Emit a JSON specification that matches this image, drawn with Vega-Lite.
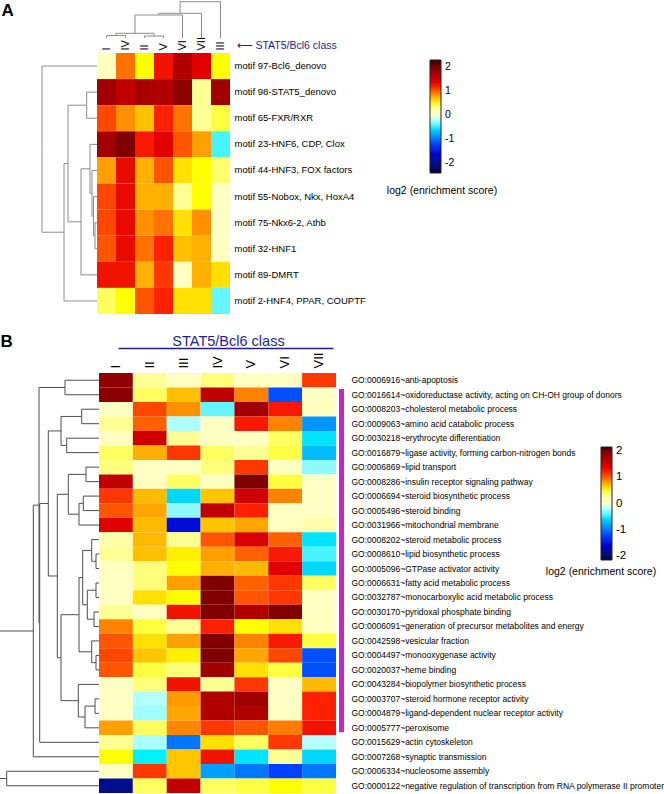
{
  "$schema": "https://vega.github.io/schema/vega-lite/v6.json",
  "autosize": {"type": "none"},
  "padding": {"left": 99, "top": 53, "right": 565, "bottom": 741},
  "background": "white",
  "config": {
    "font": "Liberation Sans",
    "view": {"stroke": null},
    "axis": {"grid": false, "labelFont": "Liberation Sans", "titleFont": "Liberation Sans"},
    "legend": {"labelFont": "Liberation Sans", "titleFont": "Liberation Sans"}
  },
  "spacing": 59,
  "bounds": "flush",
  "resolve": {"scale": {"color": "independent"}, "legend": {"color": "independent"}},
  "vconcat": [
    {
      "width": 133,
      "height": 261,
      "resolve": {"scale": {"x": "independent", "y": "independent"}},
      "layer": [
        {
          "data": {"values": [
            {"motif": "motif 97-Bcl6_denovo", "I": 0.2, "IV": 0.95, "II": 0.5, "V": 1.3, "VI": 1.7, "VII": 1.4, "III": 0.5},
            {"motif": "motif 98-STAT5_denovo", "I": 1.8, "IV": 1.6, "II": 1.75, "V": 1.7, "VI": 1.9, "VII": 0.3, "III": 1.8},
            {"motif": "motif 65-FXR/RXR", "I": 1.1, "IV": 0.85, "II": 0.7, "V": 1.2, "VI": 0.95, "VII": 0.3, "III": 0.45},
            {"motif": "motif 23-HNF6, CDP, Clox", "I": 1.8, "IV": 2.0, "II": 1.25, "V": 1.4, "VI": 1.05, "VII": 0.8, "III": -0.45},
            {"motif": "motif 44-HNF3, FOX factors", "I": 0.8, "IV": 1.35, "II": 0.75, "V": 1.05, "VI": 0.6, "VII": 0.5, "III": 0.38},
            {"motif": "motif 55-Nobox, Nkx, HoxA4", "I": 1.1, "IV": 1.35, "II": 0.75, "V": 0.75, "VI": 0.3, "VII": 0.5, "III": 0.12},
            {"motif": "motif 75-Nkx6-2, Athb", "I": 1.1, "IV": 1.35, "II": 0.85, "V": 0.95, "VI": 0.6, "VII": 0.85, "III": 0.1},
            {"motif": "motif 32-HNF1", "I": 1.05, "IV": 1.35, "II": 0.95, "V": 1.2, "VI": 0.7, "VII": 0.75, "III": 0.1},
            {"motif": "motif 89-DMRT", "I": 1.3, "IV": 1.3, "II": 0.75, "V": 1.15, "VI": 0, "VII": 0.75, "III": 0.6},
            {"motif": "motif 2-HNF4, PPAR, COUPTF", "I": 0.4, "IV": 0.5, "II": 1.05, "V": 1.2, "VI": 0.6, "VII": 0.6, "III": -0.4}
          ]},
          "transform": [{"fold": ["I", "IV", "II", "V", "VI", "VII", "III"], "as": ["col", "v"]}],
          "mark": {"type": "rect"},
          "encoding": {
            "x": {
              "field": "col", "type": "nominal",
              "scale": {"domain": ["I", "IV", "II", "V", "VI", "VII", "III"], "range": [-2, 131], "paddingInner": 0, "paddingOuter": 0},
              "axis": {
                "orient": "top", "labelAngle": 270, "labelAlign": "left", "labelBaseline": "middle",
                "labelPadding": 3, "ticks": false, "domain": false, "labelFontSize": 11, "labelColor": "#000",
                "title": "⟵ STAT5/Bcl6 class", "titleColor": "#1f1f8f", "titleFontSize": 10.5, "titleFontWeight": "normal",
                "titleAnchor": "start", "titleAlign": "left", "titleBaseline": "middle", "titleX": 137, "titleY": -8
              }
            },
            "y": {
              "field": "motif", "type": "nominal", "sort": null,
              "scale": {"paddingInner": 0, "paddingOuter": 0},
              "axis": {"orient": "right", "labelFontSize": 9.5, "labelPadding": 2, "ticks": false, "domain": false, "title": null, "labelLimit": 400, "labelColor": "#000"}
            },
            "color": {
              "field": "v", "type": "quantitative",
              "scale": {
                "type": "linear",
                "domain": [-2.4, -1.6, -1.2, -0.8, -0.5, -0.2, 0, 0.2, 0.4, 0.5, 0.6, 0.7, 0.8, 1.0, 1.2, 1.4, 1.7, 2.0, 2.3],
                "range": ["#000040", "#0000d0", "#0040ff", "#00a0ff", "#00f0ff", "#b0ffff", "#ffffff", "#ffffc0", "#ffff60", "#ffff00", "#ffe000", "#ffc000", "#ffa000", "#ff6000", "#ff2000", "#e00000", "#b00000", "#800000", "#300000"]
              },
              "legend": {
                "type": "gradient",
                "orient": "none", "legendX": 288, "legendY": 7, "direction": "vertical",
                "gradientLength": 113, "gradientThickness": 11, "values": [-2, -1, 0, 1, 2],
                "labelFontSize": 10.5, "labelOffset": 4, "labelOverlap": false, "labelColor": "#000",
                "labelExpr": "'' + datum.value",
                "title": "log2 (enrichment score)", "titleOrient": "bottom", "titleAnchor": "middle",
                "titleFontSize": 10.5, "titleFontWeight": "normal", "titlePadding": 12, "titleLimit": 300, "titleColor": "#000",
                "gradientStrokeColor": "#222", "gradientStrokeWidth": 1, "padding": 0
              }
            }
          }
        },
        {
          "data": {"name": "rowLinksA", "values": [
            {"h0": 0, "h": 55, "y": 1, "yp": 4.184},
            {"h0": 33, "h": 55, "y": 7.367, "yp": 4.184},
            {"h0": 29, "h": 33, "y": 4.734, "yp": 7.367},
            {"h0": 0, "h": 33, "y": 10, "yp": 7.367},
            {"h0": 10.3, "h": 29, "y": 2.5, "yp": 4.734},
            {"h0": 16, "h": 29, "y": 6.969, "yp": 4.734},
            {"h0": 0, "h": 10.3, "y": 2, "yp": 2.5},
            {"h0": 0, "h": 10.3, "y": 3, "yp": 2.5},
            {"h0": 7, "h": 16, "y": 4.938, "yp": 6.969},
            {"h0": 0, "h": 16, "y": 9, "yp": 6.969},
            {"h0": 0, "h": 7, "y": 4, "yp": 4.938},
            {"h0": 5, "h": 7, "y": 5.875, "yp": 4.938},
            {"h0": 0, "h": 5, "y": 5, "yp": 5.875},
            {"h0": 3.5, "h": 5, "y": 6.75, "yp": 5.875},
            {"h0": 0, "h": 3.5, "y": 6, "yp": 6.75},
            {"h0": 2, "h": 3.5, "y": 7.5, "yp": 6.75},
            {"h0": 0, "h": 2, "y": 7, "yp": 7.5},
            {"h0": 0, "h": 2, "y": 8, "yp": 7.5}
          ]},
          "mark": {"type": "rule", "color": "#8c8c8c", "strokeWidth": 1},
          "encoding": {
            "x": {"field": "h0", "type": "quantitative", "scale": {"domain": [0, 55], "range": [-2, -57], "nice": false, "zero": false}, "axis": null},
            "x2": {"field": "h"},
            "y": {
              "field": "y", "type": "quantitative",
              "scale": {"domain": [0.5, 10.5], "range": [0, 261], "nice": false, "zero": false},
              "axis": {
                "orient": "left", "domain": false, "ticks": false, "labels": false, "grid": false,
                "title": "A", "titleAngle": 0, "titleFontSize": 17, "titleFontWeight": "bold", "titleColor": "#000",
                "titleX": -98, "titleY": -38, "titleAlign": "left", "titleBaseline": "alphabetic"
              }
            }
          }
        },
        {
          "data": {"name": "rowLinksA"},
          "mark": {"type": "rule", "color": "#8c8c8c", "strokeWidth": 1},
          "encoding": {
            "x": {"field": "h", "type": "quantitative", "scale": {"domain": [0, 55], "range": [-2, -57], "nice": false, "zero": false}, "axis": null},
            "y": {"field": "y", "type": "quantitative", "scale": {"domain": [0.5, 10.5], "range": [0, 261], "nice": false, "zero": false}, "axis": null},
            "y2": {"field": "yp"}
          }
        },
        {
          "data": {"name": "colLinksA", "values": [
            {"h0": 0, "h": 2.5, "x": 1, "xp": 1.5},
            {"h0": 0, "h": 2.5, "x": 2, "xp": 1.5},
            {"h0": 0, "h": 2, "x": 3, "xp": 3.5},
            {"h0": 0, "h": 2, "x": 4, "xp": 3.5},
            {"h0": 2.5, "h": 4.7, "x": 1.5, "xp": 2.5},
            {"h0": 2, "h": 4.7, "x": 3.5, "xp": 2.5},
            {"h0": 4.7, "h": 23, "x": 2.5, "xp": 3.75},
            {"h0": 0, "h": 23, "x": 5, "xp": 3.75},
            {"h0": 23, "h": 24.7, "x": 3.75, "xp": 4.875},
            {"h0": 0, "h": 24.7, "x": 6, "xp": 4.875},
            {"h0": 24.7, "h": 36.3, "x": 4.875, "xp": 5.938},
            {"h0": 0, "h": 36.3, "x": 7, "xp": 5.938}
          ]},
          "mark": {"type": "rule", "color": "#8c8c8c", "strokeWidth": 1},
          "encoding": {
            "x": {"field": "x", "type": "quantitative", "scale": {"domain": [0.5, 7.5], "range": [-2, 131], "nice": false, "zero": false}, "axis": null},
            "y": {"field": "h0", "type": "quantitative", "scale": {"domain": [0, 36.3], "range": [-15, -51.3], "nice": false, "zero": false}, "axis": null},
            "y2": {"field": "h"}
          }
        },
        {
          "data": {"name": "colLinksA"},
          "mark": {"type": "rule", "color": "#8c8c8c", "strokeWidth": 1},
          "encoding": {
            "x": {"field": "x", "type": "quantitative", "scale": {"domain": [0.5, 7.5], "range": [-2, 131], "nice": false, "zero": false}, "axis": null},
            "x2": {"field": "xp"},
            "y": {"field": "h", "type": "quantitative", "scale": {"domain": [0, 36.3], "range": [-15, -51.3], "nice": false, "zero": false}, "axis": null}
          }
        }
      ]
    },
    {
      "width": 237,
      "height": 420,
      "resolve": {"scale": {"x": "independent", "y": "independent"}},
      "layer": [
        {
          "data": {"values": [
            {"term": "GO:0006916~anti-apoptosis", "I": 1.9, "II": 0.3, "III": 0, "IV": 0.35, "V": 0, "VI": 0, "VII": 1.15},
            {"term": "GO:0016614~oxidoreductase activity, acting on CH-OH group of donors", "I": 1.95, "II": 0.4, "III": 0.7, "IV": 1.6, "V": 0.9, "VI": -1.15, "VII": 0},
            {"term": "GO:0008203~cholesterol metabolic process", "I": 0, "II": 1.1, "III": 0.85, "IV": -0.4, "V": 1.8, "VI": 1.25, "VII": 0.2},
            {"term": "GO:0009063~amino acid catabolic process", "I": 0.3, "II": 1.0, "III": -0.2, "IV": 0, "V": 1.25, "VI": 0.9, "VII": -0.85},
            {"term": "GO:0030218~erythrocyte differentiation", "I": 0, "II": 1.5, "III": 0.3, "IV": 0, "V": 0.1, "VI": 0.4, "VII": -0.55},
            {"term": "GO:0016879~ligase activity, forming carbon-nitrogen bonds", "I": 0.4, "II": 0.75, "III": 1.15, "IV": 0.4, "V": 0.3, "VI": 0.45, "VII": -0.7},
            {"term": "GO:0006869~lipid transport", "I": 0.35, "II": 0.1, "III": 0, "IV": 0.35, "V": 1.15, "VI": 0.1, "VII": -0.3},
            {"term": "GO:0008286~insulin receptor signaling pathway", "I": 1.6, "II": 0.1, "III": 0.4, "IV": 0, "V": 2.0, "VI": 0.45, "VII": 0},
            {"term": "GO:0006694~steroid biosynthetic process", "I": 1.15, "II": 0.72, "III": -0.6, "IV": 0.68, "V": 1.5, "VI": 0.9, "VII": 0},
            {"term": "GO:0005496~steroid binding", "I": 1.05, "II": 0.78, "III": -0.3, "IV": 1.6, "V": 1.2, "VI": 0, "VII": 0},
            {"term": "GO:0031966~mitochondrial membrane", "I": 1.4, "II": 0.72, "III": -1.55, "IV": 0.68, "V": 0.78, "VI": 0.1, "VII": 0.25},
            {"term": "GO:0008202~steroid metabolic process", "I": 0.25, "II": 0.72, "III": 0.3, "IV": 1.05, "V": 1.45, "VI": 1.0, "VII": -0.55},
            {"term": "GO:0008610~lipid biosynthetic process", "I": 0.3, "II": 0.7, "III": 0.55, "IV": 0.8, "V": 1.0, "VI": 1.25, "VII": -0.45},
            {"term": "GO:0005096~GTPase activator activity", "I": 0.2, "II": 0.35, "III": 0.5, "IV": 0.75, "V": 0.72, "VI": 1.4, "VII": -0.6},
            {"term": "GO:0006631~fatty acid metabolic process", "I": 0, "II": 0.35, "III": 0.8, "IV": 2.0, "V": 1.0, "VI": 1.15, "VII": 0.4},
            {"term": "GO:0032787~monocarboxylic acid metabolic process", "I": 0, "II": 0.6, "III": 0.5, "IV": 2.0, "V": 1.05, "VI": 1.15, "VII": 0.2},
            {"term": "GO:0030170~pyridoxal phosphate binding", "I": 0.3, "II": 0, "III": 1.3, "IV": 2.0, "V": 1.7, "VI": 2.0, "VII": 0.2},
            {"term": "GO:0006091~generation of precursor metabolites and energy", "I": 0.9, "II": 0.45, "III": 0.3, "IV": 1.2, "V": 0.5, "VI": 0.6, "VII": 0.15},
            {"term": "GO:0042598~vesicular fraction", "I": 1.05, "II": 0.6, "III": 0.8, "IV": 2.0, "V": 0.9, "VI": 1.25, "VII": 0.45},
            {"term": "GO:0004497~monooxygenase activity", "I": 1.1, "II": 0.68, "III": 0.55, "IV": 2.0, "V": 0.78, "VI": 1.1, "VII": -1.15},
            {"term": "GO:0020037~heme binding", "I": 1.05, "II": 0.45, "III": 0.35, "IV": 1.8, "V": 0.6, "VI": 0.45, "VII": -1.15},
            {"term": "GO:0043284~biopolymer biosynthetic process", "I": 0, "II": 0.35, "III": 1.3, "IV": 0.3, "V": 1.15, "VI": 0, "VII": 0.72},
            {"term": "GO:0003707~steroid hormone receptor activity", "I": 0, "II": -0.15, "III": 0.82, "IV": 1.7, "V": 1.8, "VI": 0, "VII": 1.2},
            {"term": "GO:0004879~ligand-dependent nuclear receptor activity", "I": 0, "II": -0.25, "III": 0.78, "IV": 1.7, "V": 1.7, "VI": 0, "VII": 1.2},
            {"term": "GO:0005777~peroxisome", "I": 0.8, "II": 0.4, "III": 0.88, "IV": 1.15, "V": 1.05, "VI": 0.92, "VII": 1.3},
            {"term": "GO:0015629~actin cytoskeleton", "I": 0.3, "II": -0.22, "III": -1.0, "IV": 0.6, "V": 0.4, "VI": 1.15, "VII": -0.1},
            {"term": "GO:0007268~synaptic transmission", "I": 0.5, "II": -0.5, "III": 0.68, "IV": 1.3, "V": -0.55, "VI": 0.3, "VII": -0.6},
            {"term": "GO:0006334~nucleosome assembly", "I": 0, "II": 1.15, "III": 0.68, "IV": -0.8, "V": -1.0, "VI": -1.2, "VII": -1.0},
            {"term": "GO:0000122~negative regulation of transcription from RNA polymerase II promoter", "I": -1.85, "II": 0.4, "III": 1.6, "IV": 0.4, "V": 0.45, "VI": 0.5, "VII": 0.45}
          ]},
          "transform": [{"fold": ["I", "II", "III", "IV", "V", "VI", "VII"], "as": ["col", "v"]}],
          "mark": {"type": "rect"},
          "encoding": {
            "x": {
              "field": "col", "type": "nominal",
              "scale": {"domain": ["I", "II", "III", "IV", "V", "VI", "VII"], "paddingInner": 0, "paddingOuter": 0},
              "axis": {
                "orient": "top", "labelAngle": 270, "labelAlign": "left", "labelBaseline": "middle",
                "labelPadding": 5, "ticks": false, "domain": false, "labelFontSize": 13, "labelColor": "#000", "title": null
              }
            },
            "y": {
              "field": "term", "type": "nominal", "sort": null,
              "scale": {"paddingInner": 0, "paddingOuter": 0},
              "axis": {"orient": "right", "labelFontSize": 8.5, "labelPadding": 15, "ticks": false, "domain": false, "title": null, "labelLimit": 400, "labelColor": "#000"}
            },
            "color": {
              "field": "v", "type": "quantitative",
              "scale": {
                "type": "linear",
                "domain": [-2.15, -1.6, -1.2, -0.8, -0.5, -0.2, 0, 0.2, 0.4, 0.5, 0.6, 0.7, 0.8, 1.0, 1.2, 1.4, 1.7, 2.0, 2.15],
                "range": ["#000040", "#0000d0", "#0040ff", "#00a0ff", "#00f0ff", "#b0ffff", "#ffffff", "#ffffc0", "#ffff60", "#ffff00", "#ffe000", "#ffc000", "#ffa000", "#ff6000", "#ff2000", "#e00000", "#b00000", "#800000", "#300000"]
              },
              "legend": {
                "type": "gradient",
                "orient": "none", "legendX": 447, "legendY": 74, "direction": "vertical",
                "gradientLength": 113, "gradientThickness": 11, "values": [-2, -1, 0, 1, 2],
                "labelFontSize": 11.5, "labelOffset": 4, "labelOverlap": false, "labelColor": "#000",
                "labelExpr": "'' + datum.value",
                "title": "log2 (enrichment score)", "titleOrient": "bottom", "titleAnchor": "start", "titleAlign": "center",
                "titleFontSize": 10.5, "titleFontWeight": "normal", "titlePadding": 5, "titleLimit": 300, "titleColor": "#000",
                "gradientStrokeColor": "#222", "gradientStrokeWidth": 1, "padding": 0
              }
            }
          }
        },
        {
          "data": {"name": "rowLinksB", "values": [
            {"h0": 0, "h": 34, "y": 1, "yp": 1.5},
            {"h0": 0, "h": 34, "y": 2, "yp": 1.5},
            {"h0": 0, "h": 17.3, "y": 3, "yp": 3.5},
            {"h0": 0, "h": 17.3, "y": 4, "yp": 3.5},
            {"h0": 0, "h": 32.3, "y": 5, "yp": 5.5},
            {"h0": 0, "h": 32.3, "y": 6, "yp": 5.5},
            {"h0": 17.3, "h": 38, "y": 3.5, "yp": 4.5},
            {"h0": 32.3, "h": 38, "y": 5.5, "yp": 4.5},
            {"h0": 0, "h": 13, "y": 7, "yp": 7.5},
            {"h0": 0, "h": 13, "y": 8, "yp": 7.5},
            {"h0": 0, "h": 15.7, "y": 9, "yp": 9.5},
            {"h0": 0, "h": 15.7, "y": 10, "yp": 9.5},
            {"h0": 15.7, "h": 20, "y": 9.5, "yp": 10.25},
            {"h0": 0, "h": 20, "y": 11, "yp": 10.25},
            {"h0": 13, "h": 30.7, "y": 7.5, "yp": 8.875},
            {"h0": 20, "h": 30.7, "y": 10.25, "yp": 8.875},
            {"h0": 0, "h": 3, "y": 13, "yp": 13.5},
            {"h0": 0, "h": 3, "y": 14, "yp": 13.5},
            {"h0": 0, "h": 7.3, "y": 12, "yp": 12.75},
            {"h0": 3, "h": 7.3, "y": 13.5, "yp": 12.75},
            {"h0": 0, "h": 3, "y": 15, "yp": 15.5},
            {"h0": 0, "h": 3, "y": 16, "yp": 15.5},
            {"h0": 0, "h": 5, "y": 17, "yp": 17.5},
            {"h0": 0, "h": 5, "y": 18, "yp": 17.5},
            {"h0": 3, "h": 11.7, "y": 15.5, "yp": 16.5},
            {"h0": 5, "h": 11.7, "y": 17.5, "yp": 16.5},
            {"h0": 7.3, "h": 16.3, "y": 12.75, "yp": 14.625},
            {"h0": 11.7, "h": 16.3, "y": 16.5, "yp": 14.625},
            {"h0": 0, "h": 3, "y": 20, "yp": 20.5},
            {"h0": 0, "h": 3, "y": 21, "yp": 20.5},
            {"h0": 0, "h": 7.3, "y": 19, "yp": 19.75},
            {"h0": 3, "h": 7.3, "y": 20.5, "yp": 19.75},
            {"h0": 16.3, "h": 20, "y": 14.625, "yp": 17.188},
            {"h0": 7.3, "h": 20, "y": 19.75, "yp": 17.188},
            {"h0": 0, "h": 4, "y": 23, "yp": 23.5},
            {"h0": 0, "h": 4, "y": 24, "yp": 23.5},
            {"h0": 4, "h": 14, "y": 23.5, "yp": 24.25},
            {"h0": 0, "h": 14, "y": 25, "yp": 24.25},
            {"h0": 0, "h": 20.7, "y": 22, "yp": 23.125},
            {"h0": 14, "h": 20.7, "y": 24.25, "yp": 23.125},
            {"h0": 20, "h": 38, "y": 17.188, "yp": 20.156},
            {"h0": 20.7, "h": 38, "y": 23.125, "yp": 20.156},
            {"h0": 30.7, "h": 41.7, "y": 8.875, "yp": 14.516},
            {"h0": 38, "h": 41.7, "y": 20.156, "yp": 14.516},
            {"h0": 38, "h": 50.7, "y": 4.5, "yp": 9.508},
            {"h0": 41.7, "h": 50.7, "y": 14.516, "yp": 9.508},
            {"h0": 50.7, "h": 59.3, "y": 9.508, "yp": 17.754},
            {"h0": 0, "h": 59.3, "y": 26, "yp": 17.754},
            {"h0": 34, "h": 60, "y": 1.5, "yp": 9.627},
            {"h0": 59.3, "h": 60, "y": 17.754, "yp": 9.627},
            {"h0": 60, "h": 65.7, "y": 9.627, "yp": 18.314},
            {"h0": 0, "h": 65.7, "y": 27, "yp": 18.314},
            {"h0": 0, "h": 92.3, "y": 28, "yp": 28.5},
            {"h0": 0, "h": 92.3, "y": 29, "yp": 28.5},
            {"h0": 65.7, "h": 104, "y": 18.314, "yp": 23.407},
            {"h0": 92.3, "h": 104, "y": 28.5, "yp": 23.407}
          ]},
          "mark": {"type": "rule", "color": "#4d4d4d", "strokeWidth": 1},
          "encoding": {
            "x": {"field": "h0", "type": "quantitative", "scale": {"domain": [0, 104], "range": [0, -104], "nice": false, "zero": false}, "axis": null},
            "x2": {"field": "h"},
            "y": {
              "field": "y", "type": "quantitative",
              "scale": {"domain": [0.5, 29.5], "range": [0, 420], "nice": false, "zero": false},
              "axis": {
                "orient": "left", "domain": false, "ticks": false, "labels": false, "grid": false,
                "title": "B", "titleAngle": 0, "titleFontSize": 17, "titleFontWeight": "bold", "titleColor": "#000",
                "titleX": -99, "titleY": -27, "titleAlign": "left", "titleBaseline": "alphabetic"
              }
            }
          }
        },
        {
          "data": {"name": "rowLinksB"},
          "mark": {"type": "rule", "color": "#4d4d4d", "strokeWidth": 1},
          "encoding": {
            "x": {"field": "h", "type": "quantitative", "scale": {"domain": [0, 104], "range": [0, -104], "nice": false, "zero": false}, "axis": null},
            "y": {"field": "y", "type": "quantitative", "scale": {"domain": [0.5, 29.5], "range": [0, 420], "nice": false, "zero": false}, "axis": null},
            "y2": {"field": "yp"}
          }
        },
        {
          "data": {"values": [{"cluster": "STAT5/Bcl6-enriched", "from": 1.6, "to": 25.3}]},
          "mark": {"type": "rect", "color": "#cc22cc"},
          "encoding": {
            "x": {"field": "cluster", "type": "nominal", "scale": {"range": [240, 245], "paddingInner": 0, "paddingOuter": 0}, "axis": null},
            "y": {"field": "from", "type": "quantitative", "scale": {"domain": [0.5, 29.5], "range": [0, 420], "nice": false, "zero": false}, "axis": null},
            "y2": {"field": "to"}
          }
        },
        {
          "data": {"values": [{"col": "I"}, {"col": "VII"}]},
          "mark": {"type": "rect", "opacity": 0},
          "encoding": {
            "x": {
              "field": "col", "type": "nominal",
              "scale": {"domain": ["I", "II", "III", "IV", "V", "VI", "VII"], "range": [19, 234], "paddingInner": 0, "paddingOuter": 0},
              "axis": {
                "orient": "top", "offset": 25, "domainColor": "#1f1f8f", "domainWidth": 1.5, "ticks": false, "labels": false, "grid": false,
                "title": "STAT5/Bcl6 class", "titleColor": "#1f1f8f", "titleFontSize": 14.5, "titleFontWeight": "normal",
                "titleX": 129, "titleY": -3, "titleAlign": "center", "titleBaseline": "alphabetic"
              }
            }
          }
        }
      ]
    }
  ]
}
